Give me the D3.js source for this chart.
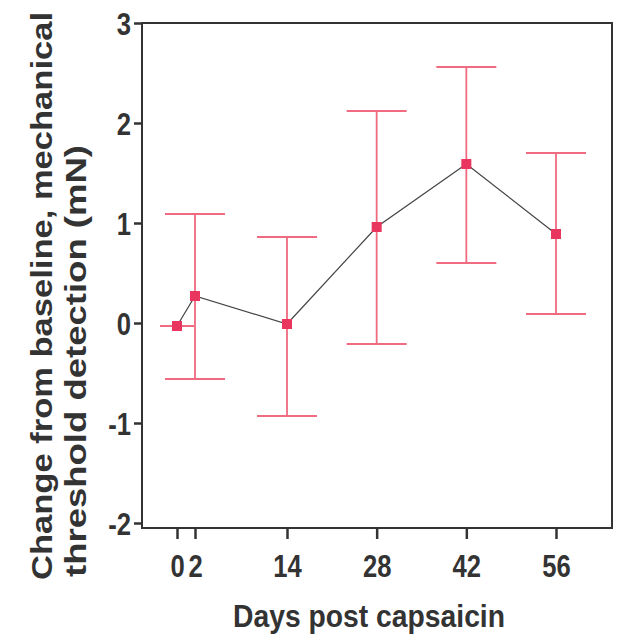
<!DOCTYPE html>
<html><head><meta charset="utf-8">
<script src="https://cdn.jsdelivr.net/npm/d3@7"></script>
<style>
body{margin:0;background:#fff;}
text{font-family:"Liberation Sans",Arial,sans-serif;font-weight:bold;fill:#333;}
</style></head>
<body><svg id="c" width="617" height="640"></svg>
<script>
const days = [0, 2, 14, 28, 42, 56];
const means = [-0.03, 0.27, -0.01, 0.96, 1.59, 0.89];
const upper = [-0.03, 1.09, 0.86, 2.12, 2.56, 1.70];
const lower = [-0.03, -0.56, -0.93, -0.21, 0.60, 0.09];
const xTicks = [0, 2, 14, 28, 42, 56];
const yTicks = [-2, -1, 0, 1, 2, 3];

const svg = d3.select("#c");
const L = 142, R = 612, T = 23, B = 528;
const x = d3.scaleLinear().domain([0, 2, 14, 56]).range([177, 195, 287, 556]);
const y = d3.scaleLinear().domain([-2, 3]).range([523, 23]);

function narrow(sel, f) {
  sel.each(function () {
    const w = this.getComputedTextLength();
    d3.select(this).attr("textLength", w * f).attr("lengthAdjust", "spacingAndGlyphs");
  });
}

// frame
svg.append("rect").attr("x", L).attr("y", T).attr("width", R - L).attr("height", B - T)
  .attr("fill", "none").attr("stroke", "#333").attr("stroke-width", 2);

const fmt = d => String(d).replace("\u2212", "-");
const yAxis = svg.append("g").attr("transform", `translate(${L},0)`)
  .call(d3.axisLeft(y).tickValues(yTicks).tickSize(8).tickPadding(3).tickFormat(fmt));
const xAxis = svg.append("g").attr("transform", `translate(0,${B})`)
  .call(d3.axisBottom(x).tickValues(xTicks).tickSize(11).tickFormat(fmt));
[yAxis, xAxis].forEach(a => {
  a.select(".domain").remove();
  a.selectAll(".tick line").attr("stroke", "#333").attr("stroke-width", 2.5);
  a.selectAll("text").style("font-size", "32px").attr("fill", "#333");
});
yAxis.selectAll("text").attr("dy", "0.36em");
xAxis.selectAll("text").attr("y", 49).attr("dy", 0);
narrow(yAxis.selectAll("text"), 0.8);
narrow(xAxis.selectAll("text"), 0.8);

const data = days.map((d, i) => ({d, m: means[i], hi: upper[i], lo: lower[i]}));
const barCol = "#f06a80", markCol = "#e8365e";

// error bars
const eb = svg.append("g").attr("stroke", barCol).attr("stroke-width", 1.8).attr("fill", "none");
data.forEach(p => {
  const cw = p.hi === p.lo ? 17 : 30;
  if (p.hi !== p.lo)
    eb.append("line").attr("x1", x(p.d)).attr("x2", x(p.d)).attr("y1", y(p.hi)).attr("y2", y(p.lo));
  eb.append("line").attr("x1", x(p.d) - cw).attr("x2", x(p.d) + cw).attr("y1", y(p.hi)).attr("y2", y(p.hi));
  if (p.hi !== p.lo)
    eb.append("line").attr("x1", x(p.d) - cw).attr("x2", x(p.d) + cw).attr("y1", y(p.lo)).attr("y2", y(p.lo));
});

// mean line
svg.append("path").datum(data)
  .attr("d", d3.line().x(p => x(p.d)).y(p => y(p.m)))
  .attr("fill", "none").attr("stroke", "#444").attr("stroke-width", 1.2);

// markers
svg.append("g").selectAll("rect").data(data).join("rect")
  .attr("x", p => x(p.d) - 5).attr("y", p => y(p.m) - 5)
  .attr("width", 10).attr("height", 10).attr("fill", markCol);

// axis titles
svg.append("text").attr("x", 233).attr("y", 627)
  .style("font-size", "32px").attr("textLength", 272).attr("lengthAdjust", "spacingAndGlyphs")
  .text("Days post capsaicin");
svg.append("text").attr("transform", "translate(52,580) rotate(-90)")
  .style("font-size", "30px").attr("textLength", 568).attr("lengthAdjust", "spacingAndGlyphs")
  .text("Change from baseline, mechanical");
svg.append("text").attr("transform", "translate(86,577) rotate(-90)")
  .style("font-size", "30px").attr("textLength", 432).attr("lengthAdjust", "spacingAndGlyphs")
  .text("threshold detection (mN)");
</script></body></html>
